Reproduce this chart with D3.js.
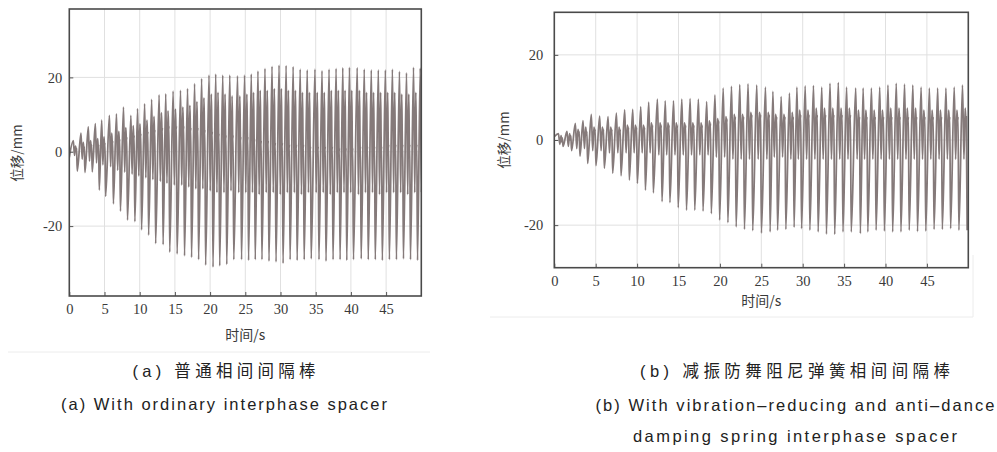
<!DOCTYPE html>
<html><head><meta charset="utf-8">
<script src="https://cdn.jsdelivr.net/npm/d3@7"></script>
<style>body{margin:0;background:#fff}svg{display:block}</style>
</head><body>
<script>
// ---------- DATA ----------
const xTicks = [0,5,10,15,20,25,30,35,40,45];
const yTicks = [-20,0,20];
const xTitle = "时间/s";
const yTitle = "位移/mm";

// (a) ordinary interphase spacer: per-cycle extremes
const cycleTimeA = [0.57,1.66,2.7,3.7,4.6,5.7,6.7,7.7,8.75,9.7,10.7,11.7,12.76,13.7,14.75,15.8,16.8,17.8,18.8,19.85,20.8,21.8,22.8,23.9,24.9,25.85,26.8,27.8,28.8,29.8,30.8,31.8,32.8,33.8,34.9,35.9,36.9,37.9,38.85,39.8,40.9,41.9,42.9,43.9,44.9,45.9,46.9,47.9,48.9,49.85];
const peakA    = [3,5,6.7,7.6,8.5,9.8,10.2,12,9.8,11.6,12.9,14.1,15.3,15.6,16.3,16.5,17,18.3,19.7,20.6,20.9,20.6,20.6,20.4,20.6,20.9,21.7,22.4,23,23.3,23.2,22.9,22.2,22,22.2,21.8,22.2,22.4,22.6,22.7,22.6,22.2,22,22,22,22.2,21.6,21.2,22.7,22.5];
const dipA     = [-1,-2,-2.5,-3,-3.5,-4,-5,-5.5,-6,-6.5,-7,-7.5,-8,-8.5,-9,-9,-9.5,-10,-10,-10.5,-11,-11,-10.5,-11,-11,-11,-11.5,-11,-11,-11.5,-11,-11,-11.5,-11,-11,-11,-11.5,-11,-11,-11,-11.5,-11,-11,-11.5,-11,-11,-11,-11.5,-11,-11];
const subPeakA = [1.5,2.5,3,3.5,4,5,5.5,6.5,7,7.5,8.5,9.5,10.5,11,11.5,12,12.5,13.5,14.5,15.5,16,15.5,15,15,15.5,16,16.5,16.5,17,17,16.5,16.5,16,16,16,16,16.5,16.5,16.5,16.5,16.5,16,16,16,16,16,15.5,15.5,16,16];
const kinkA    = [0,0.5,1,1,1.5,2,2.5,3,3.5,4,4.5,5,5.5,6,6,6,5.5,5.5,5,4.5,4,3.5,3.5,3,3,2.5,2,2,1.5,1.5,1,1,1,0.5,0.5,0.5,0.5,0,0,0,0.5,0.5,0.5,0.5,1,1,1,1,1,1];
const troughA  = [-5.2,-5.6,-5.4,-10.3,-12,-14,-16,-18.4,-18.8,-21,-22.4,-24.7,-25,-27,-27.5,-28,-28.4,-29,-30.5,-31,-30.7,-30.3,-29,-29,-29.2,-29,-29,-29.4,-29.6,-30,-29,-29.2,-29,-28.8,-29,-29.4,-29,-29,-29.2,-29,-28.8,-29,-29,-29.2,-29,-29,-28.8,-29,-29.2,-29];
const startA = -1.5;

// (b) damping spring interphase spacer
const cycleTimeB = [0.5,1.53,2.54,3.47,4.47,5.48,6.49,7.5,8.5,9.47,10.44,11.4,12.45,13.4,14.4,15.4,16.4,17.4,18.4,19.4,20.4,21.4,22.4,23.4,24.45,25.5,26.4,27.4,28.4,29.3,30.3,31.3,32.3,33.3,34.3,35.3,36.4,37.3,38.3,39.3,40.3,41.3,42.3,43.3,44.3,45.3,46.3,47.3,48.3,49.3];
const peakB    = [1.5,2,3.9,4.55,6,5.6,5.5,6.3,7.1,7.2,7.8,8.9,9.6,9.2,9.2,9.6,9.7,9.6,9,10.6,12.2,12.6,13,13.2,12.9,12.4,11.4,10.2,11,12.4,12.7,12.8,12.4,13.3,13.5,12.4,12.2,12.2,12.2,12.4,12.9,13.3,13.1,12.9,12.4,12.2,12.2,12.2,12.4,12.9];
const dipB     = [-1,-1.5,-2,-2,-2.5,-2.5,-3,-3,-3,-3,-3,-3,-3.5,-3.5,-3.5,-3.5,-3.5,-3.5,-3.5,-4,-4,-4.5,-4.5,-4.5,-4.5,-4.5,-4,-4,-4.5,-4.5,-4.5,-4.5,-4.5,-4.5,-4.5,-4.5,-4.5,-4.5,-4.5,-4.5,-4.5,-4.5,-4.5,-4.5,-4.5,-4.5,-4.5,-4.5,-4.5,-4.5];
const subPeakB = [1,1.5,2.5,3,3,3,3,3,3.5,3.5,3.5,4,4,4,4,4,4,4,4.5,5,5.5,6,6,6.5,6.5,6.5,6,6,6.5,7,7,7.5,7.5,7.5,7.5,7.5,7,7,7,7,7.5,7.5,7.5,7.5,7,7,7,7,7,7.5];
const kinkB    = [-0.5,0,1,1,1.5,1.5,1.5,1.5,2,2,2,2.5,2.5,2.5,2.5,2.5,2.5,2.5,3,3.5,4,4.5,4.5,5,5,5,4.5,4.5,4.5,5,5,5,5,5,5,5,4.5,4.5,4.5,4.5,4.5,4.5,4.5,4.5,4.5,4.5,4.5,4.5,4.5,4.5];
const troughB  = [-1.5,-2.5,-3.8,-5.5,-6,-6.6,-7.8,-8.4,-9.4,-10.2,-11.8,-12.4,-14.5,-14.7,-15.9,-16.5,-16.5,-16.7,-17.3,-18.8,-19.4,-20.4,-21,-21.3,-21.9,-21.6,-21.2,-21,-20.5,-20.8,-21.2,-21.6,-22.1,-22.2,-21.6,-21.6,-22,-21.6,-21.2,-21.4,-21.6,-21.6,-21.2,-21.5,-21.4,-21,-21,-20.8,-21.2,-21.2];
const startB = 0.8;

const captionA = ["(a) 普通相间间隔棒", "(a) With ordinary interphase spacer"];
const captionB = ["(b) 减振防舞阻尼弹簧相间间隔棒", "(b) With vibration–reducing and anti–dance", "damping  spring interphase spacer"];

// ---------- DRAWING ----------
const svg = d3.select("body").append("svg").attr("width",997).attr("height",452);
const SERIF = "'Liberation Serif','Times New Roman',serif";
const CJK = "'Noto Sans CJK SC',sans-serif";

// waveform shape inside one cycle (phase offsets, seconds)
const phase = {dip:0.17, sub:0.32, k1:0.42, k2:0.46, trough:0.56};

function buildSeries(times, peak, dip, sub, kink, trough, start){
  const pts = [[0,start]];
  times.forEach((t,i)=>{
    pts.push([t, peak[i]]);
    pts.push([t+phase.dip, dip[i]]);
    pts.push([t+phase.sub, sub[i]]);
    pts.push([t+phase.k1, kink[i]]);
    pts.push([t+phase.k2, kink[i]+1]);
    pts.push([t+phase.trough, trough[i]]);
  });
  return pts;
}

function panel(cfg){
  const g = svg.append("g");
  const x = d3.scaleLinear().domain([0,50]).range([cfg.x0,cfg.x1]);
  const y = d3.scaleLinear().domain(cfg.yDomain).range([cfg.y1,cfg.y0]);
  // grid
  g.append("g").selectAll("line").data(xTicks.filter(d=>d>0)).join("line")
    .attr("x1",d=>x(d)).attr("x2",d=>x(d)).attr("y1",cfg.y0).attr("y2",cfg.y1)
    .attr("stroke","#e0e0e0").attr("stroke-width",1);
  g.append("g").selectAll("line").data(yTicks).join("line")
    .attr("x1",cfg.x0).attr("x2",cfg.x1).attr("y1",d=>y(d)).attr("y2",d=>y(d))
    .attr("stroke","#e0e0e0").attr("stroke-width",1);
  // clip
  const id = "clip"+cfg.name;
  svg.append("clipPath").attr("id",id).append("rect")
    .attr("x",cfg.x0).attr("y",cfg.y0).attr("width",cfg.x1-cfg.x0).attr("height",cfg.y1-cfg.y0);
  const line = d3.line().x(d=>x(d[0])).y(d=>y(d[1])).curve(d3.curveMonotoneX);
  g.append("path").attr("clip-path",`url(#${id})`).datum(cfg.data)
    .attr("d",line).attr("fill","none").attr("stroke","#857a7a")
    .attr("stroke-width",1.75).attr("stroke-linejoin","round");
  // axes with inward ticks
  const fmt = d => String(d);
  const xAxis = d3.axisBottom(x).tickValues(xTicks).tickSize(-4).tickPadding(8).tickFormat(fmt);
  const ax = g.append("g").attr("transform",`translate(0,${cfg.y1})`).call(xAxis);
  ax.attr("font-family",null);
  ax.select(".domain").remove();
  ax.selectAll(".tick line").attr("stroke","#555");
  ax.selectAll("text").style("font-family",SERIF).style("font-size","14.5px").attr("fill","#3a3a3a");
  const yAxis = d3.axisLeft(y).tickValues(yTicks).tickSize(-4).tickPadding(cfg.ypad).tickFormat(fmt);
  const ay = g.append("g").attr("transform",`translate(${cfg.x0},0)`).call(yAxis);
  ay.attr("font-family",null);
  ay.select(".domain").remove();
  ay.selectAll(".tick line").attr("stroke","#555");
  ay.selectAll("text").style("font-family",SERIF).style("font-size","14.5px").attr("fill","#3a3a3a");
  // frame
  g.append("rect").attr("x",cfg.x0).attr("y",cfg.y0).attr("width",cfg.x1-cfg.x0).attr("height",cfg.y1-cfg.y0)
    .attr("fill","none").attr("stroke","#4a4a4a").attr("stroke-width",1.6);
  // titles
  g.append("text").attr("x",(cfg.x0+cfg.x1)/2).attr("y",cfg.xTitleY).attr("text-anchor","middle")
    .style("font-family",CJK).style("font-size","14px").attr("fill","#3a3a3a").text(xTitle);
  g.append("text").attr("transform",`translate(${cfg.yTitleX},${cfg.yTitleCY}) rotate(-90)`).attr("text-anchor","middle")
    .style("font-family",CJK).style("font-size","13.5px").attr("fill","#3a3a3a").text(yTitle);
}

panel({name:"A", x0:69.3, x1:421.3, y0:9, y1:296, yDomain:[-38.8,38.4], ypad:7, xTitleY:340, yTitleX:22, yTitleCY:153,
  data: buildSeries(cycleTimeA, peakA, dipA, subPeakA, kinkA, troughA, startA)});
panel({name:"B", x0:554.3, x1:968.3, y0:12.3, y1:267.7, yDomain:[-30,30], ypad:11, xTitleY:306, yTitleX:509, yTitleCY:140,
  data: buildSeries(cycleTimeB, peakB, dipB, subPeakB, kinkB, troughB, startB)});

// faint borders of the original sub-figures
svg.append("line").attr("x1",8).attr("x2",430).attr("y1",352).attr("y2",352).attr("stroke","#ececec");
svg.append("line").attr("x1",490).attr("x2",973).attr("y1",317).attr("y2",317).attr("stroke","#ececec");
svg.append("line").attr("x1",973).attr("x2",973).attr("y1",255).attr("y2",317).attr("stroke","#ececec");

// captions (centred under each sub-figure)
function caption(lines, cx, ys, lens, size){
  lines.forEach((t,i)=>{
    svg.append("text").attr("x",cx).attr("y",ys[i]).attr("text-anchor","middle")
      .style("font-family","'Liberation Sans','Noto Sans CJK SC',sans-serif").style("font-size",size+"px")
      .attr("fill","#222").attr("textLength",lens[i]).attr("lengthAdjust","spacing").text(t);
  });
}
caption(captionA, 224, [377,410], [183,326], 16.5);
caption(captionB, 795, [377,411,442], [310,399,324], 16.5);
</script>
</body></html>
